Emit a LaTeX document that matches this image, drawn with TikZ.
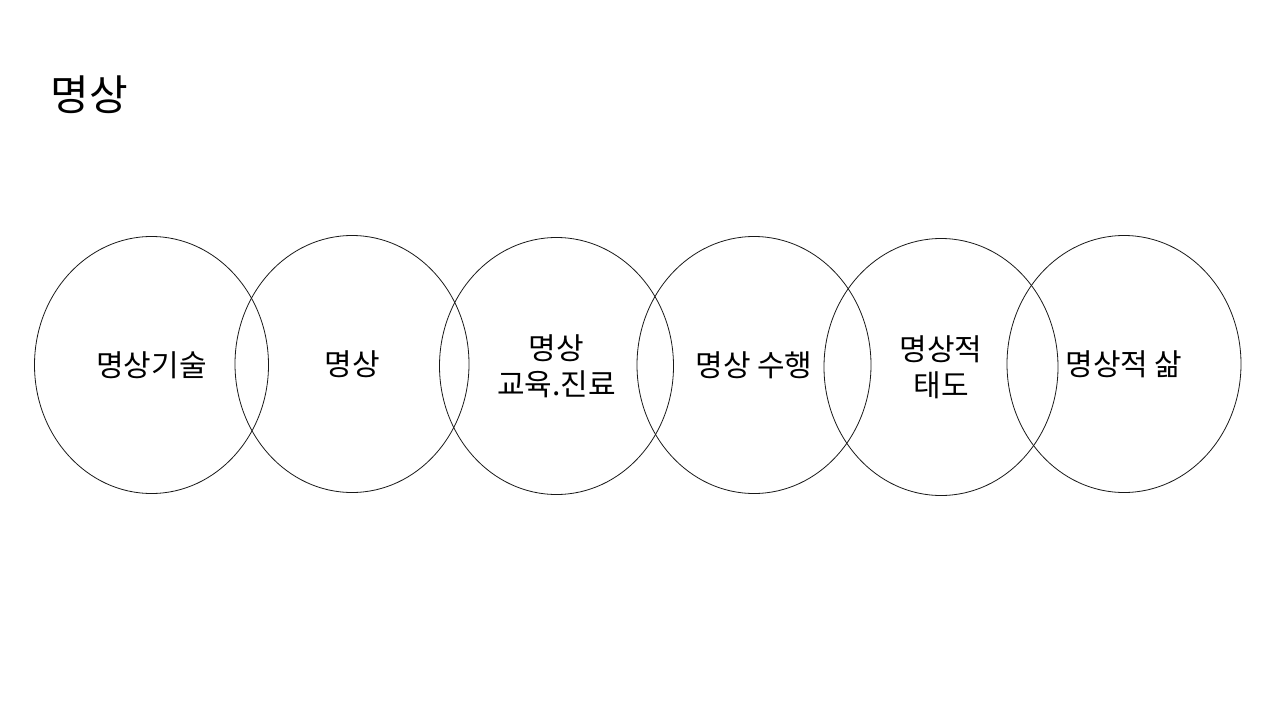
\documentclass[tikz,border=0pt]{standalone}
\usepackage{fontspec}
\setmainfont{Noto Sans CJK KR}
\usetikzlibrary{shapes.geometric, positioning}
\definecolor{mainBlack}{gray}{0.1}

\begin{document}
\begin{tikzpicture}[x=1pt, y=-1pt,
    ring/.style={draw=mainBlack, line width=0.8pt, ellipse, inner sep=0pt,
        minimum width=234pt, minimum height=257pt, align=center,
        font=\fontsize{30}{36}\selectfont}]
    \useasboundingbox (0,0) rectangle (1280,720);

    % title
    \node[font=\fontsize{42}{46}\selectfont] (title) at (89,95) {명상};

    % overlapping rings, left to right
    \node[ring] (skill) at (151.5,365) {명상기술};
    \node[ring] (med) at (352,364) {명상};
    \node[ring] (edu) at (556.5,366) {명상\\교육.진료};
    \node[ring] (prac) at (754,365) {명상 수행};
    \node[ring] (att) at (941,367) {명상적\\태도};
    \node[ring] (life) at (1124,364) {명상적 삶};
\end{tikzpicture}
\end{document}
